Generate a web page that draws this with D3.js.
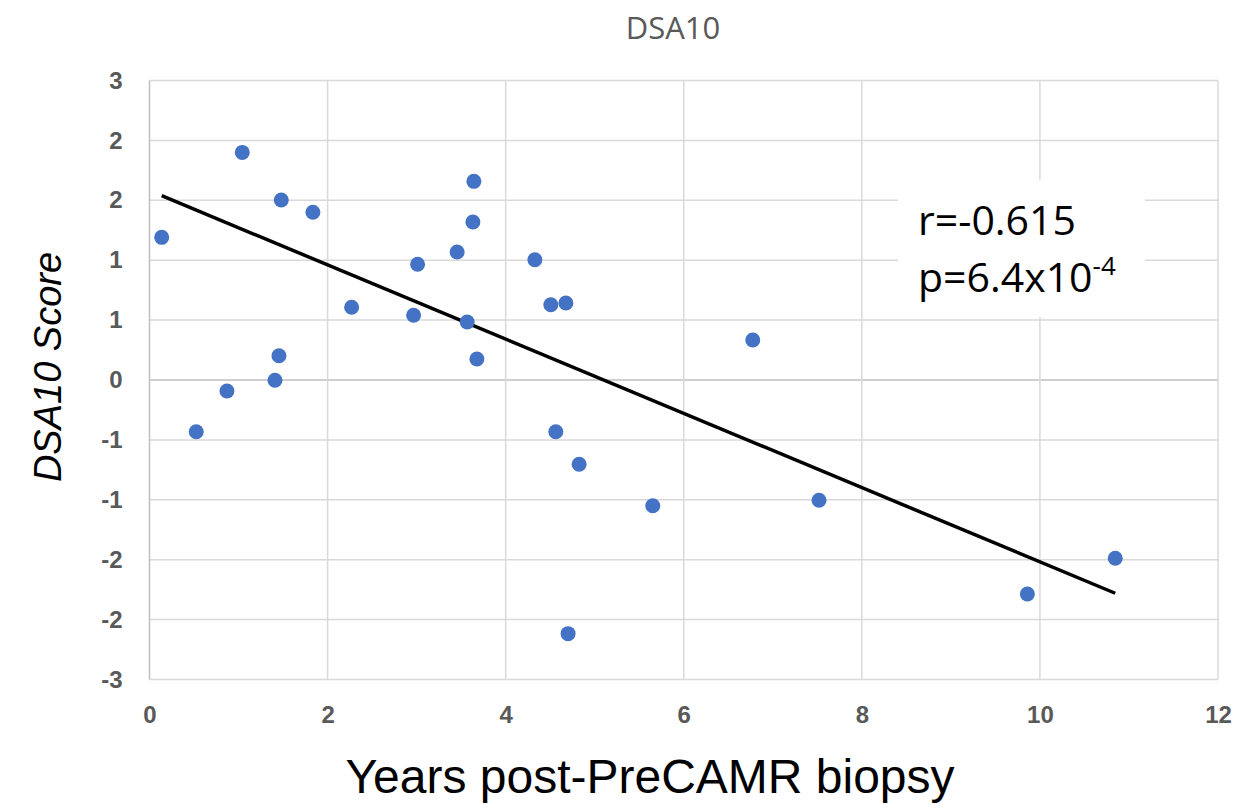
<!DOCTYPE html>
<html>
<head>
<meta charset="utf-8">
<script src="https://cdn.jsdelivr.net/npm/d3@7"></script>
<style>
  body { margin: 0; background: #fff; }
</style>
</head>
<body>
<div id="chart"></div>
<script>
// data
const years = [0.137, 0.525, 0.870, 1.042, 1.409, 1.454, 1.480, 1.835, 2.270, 2.966,
               3.011, 3.455, 3.568, 3.632, 3.643, 3.677, 4.328, 4.507, 4.563, 4.676,
               4.701, 4.825, 5.652, 6.775, 7.519, 9.859, 10.846];
const scores = [1.429, -0.518, -0.110, 2.280, -0.003, 0.243, 1.803, 1.680, 0.728, 0.648,
                1.159, 1.282, 0.581, 1.582, 1.990, 0.210, 1.205, 0.754, -0.518, 0.771,
                -2.541, -0.844, -1.259, 0.401, -1.205, -2.143, -1.786];
// linear trendline end points (x, y)
const trendX = [0.137, 10.846];
const trendY = [1.846, -2.136];
const xTicks = [0, 2, 4, 6, 8, 10, 12];
const yTicks = [3, 2.4, 1.8, 1.2, 0.6, 0, -0.6, -1.2, -1.8, -2.4, -3];
const statLines = ["r=-0.615", "p=6.4x10"];

const FRAME_WIDTH = 1254;
const FRAME_HEIGHT = 808;
const MARGINS = {left: 149.5, right: 36, top: 80.5, bottom: 128.5};
const VIS_WIDTH = FRAME_WIDTH - MARGINS.left - MARGINS.right;
const VIS_HEIGHT = FRAME_HEIGHT - MARGINS.top - MARGINS.bottom;

const svg = d3.select("#chart")
  .append("svg")
    .attr("width", FRAME_WIDTH)
    .attr("height", FRAME_HEIGHT)
    .style("font-family", "'Liberation Sans', Arial, sans-serif");

let xScale = d3.scaleLinear().domain([0, 12]).range([0, VIS_WIDTH]);
let yScale = d3.scaleLinear().domain([-3, 3]).range([VIS_HEIGHT, 0]);

let g = svg.append("g")
  .attr("transform", "translate(" + MARGINS.left + "," + MARGINS.top + ")");

// gridlines
g.append("g")
  .selectAll("line")
  .data(yTicks)
  .enter()
  .append("line")
    .attr("x1", 0).attr("x2", VIS_WIDTH)
    .attr("y1", d => yScale(d)).attr("y2", d => yScale(d))
    .attr("stroke", d => d === 0 ? "#bfbfbf" : "#d9d9d9")
    .attr("stroke-width", 1.5);

g.append("g")
  .selectAll("line")
  .data(xTicks)
  .enter()
  .append("line")
    .attr("x1", d => xScale(d)).attr("x2", d => xScale(d))
    .attr("y1", 0).attr("y2", VIS_HEIGHT)
    .attr("stroke", d => d === 0 ? "#bfbfbf" : "#d9d9d9")
    .attr("stroke-width", 1.5);

// axis labels (no axis lines, Excel-like); Excel rounds to 0 decimals, plain hyphen
const fmt = d => d3.format(".0f")(d).replace("\u2212", "-");
const yAxis = g.append("g")
  .call(d3.axisLeft(yScale).tickValues(yTicks).tickSize(0).tickPadding(27).tickFormat(fmt));
const xAxis = g.append("g")
  .attr("transform", "translate(0," + VIS_HEIGHT + ")")
  .call(d3.axisBottom(xScale).tickValues(xTicks).tickSize(0).tickPadding(26).tickFormat(fmt));
[xAxis, yAxis].forEach(a => {
  a.select(".domain").remove();
  a.selectAll("text")
    .attr("fill", "#595959")
    .style("font-family", "'Liberation Sans', Arial, sans-serif")
    .style("font-weight", "bold")
    .style("font-size", "24px");
});

// stats box, hides gridlines behind it
g.append("rect")
  .attr("x", 898 - MARGINS.left)
  .attr("y", 180 - MARGINS.top)
  .attr("width", 247)
  .attr("height", 137)
  .attr("fill", "#fff");

// trendline
g.append("line")
  .attr("x1", xScale(trendX[0])).attr("y1", yScale(trendY[0]))
  .attr("x2", xScale(trendX[1])).attr("y2", yScale(trendY[1]))
  .attr("stroke", "#000")
  .attr("stroke-width", 3.5);

// points
g.selectAll("circle")
  .data(years)
  .enter()
  .append("circle")
    .attr("cx", d => xScale(d))
    .attr("cy", (d, i) => yScale(scores[i]))
    .attr("r", 7.5)
    .attr("fill", "#4472c4");

// stats text
const stats = svg.append("g").style("font-family", "'Open Sans', sans-serif").style("font-size", "41px");
stats.append("text")
  .attr("x", 918).attr("y", 235)
  .text(statLines[0]);
const pText = stats.append("text")
  .attr("x", 918).attr("y", 292)
  .text(statLines[1]);
pText.append("tspan")
  .attr("dy", -17)
  .style("font-size", "26px")
  .text("-4");

// title
svg.append("text")
  .attr("x", 673).attr("y", 39)
  .attr("text-anchor", "middle")
  .attr("fill", "#595959")
  .style("font-family", "'Open Sans', sans-serif")
  .style("font-size", "31px")
  .text("DSA10");

// axis titles
svg.append("text")
  .attr("x", 650).attr("y", 793)
  .attr("text-anchor", "middle")
  .style("font-size", "48px")
  .text("Years post-PreCAMR biopsy");

svg.append("text")
  .attr("transform", "translate(61,367) rotate(-90)")
  .attr("text-anchor", "middle")
  .style("font-style", "italic")
  .style("font-size", "38px")
  .text("DSA10 Score");
</script>
</body>
</html>
